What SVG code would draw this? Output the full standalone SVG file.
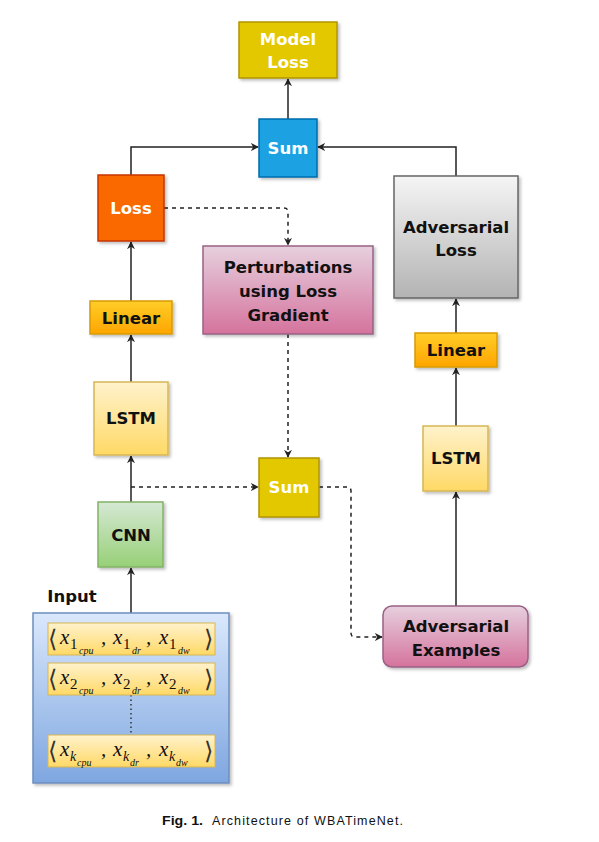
<svg xmlns="http://www.w3.org/2000/svg" width="599" height="842" viewBox="0 0 599 842">
<style>
.lbl{font-family:"DejaVu Sans","Liberation Sans",sans-serif;font-weight:bold;font-size:16.5px;text-anchor:middle}
.w{fill:#ffffff}
.k{fill:#111111}
.edge{fill:none;stroke:#222222;stroke-width:1.5}
.dash{fill:none;stroke:#222222;stroke-width:1.5;stroke-dasharray:4 4}
.mx{font-family:"Liberation Serif","DejaVu Serif",serif;font-style:italic;font-size:21px;fill:#111}
.m1{font-family:"Liberation Serif","DejaVu Serif",serif;font-size:15px;fill:#111}
.ms{font-family:"Liberation Serif","DejaVu Serif",serif;font-style:italic;font-size:10px;fill:#111}
.br{font-family:"DejaVu Sans","Noto Sans",sans-serif;font-size:24px;fill:#333}
.cap{font-family:"Liberation Sans","DejaVu Sans",sans-serif;font-size:12.5px;fill:#111}
</style>
<defs>
<filter id="sh" x="-10%" y="-10%" width="130%" height="130%">
<feDropShadow dx="2" dy="2" stdDeviation="1.5" flood-color="#000" flood-opacity="0.25"/>
</filter>
<linearGradient id="gGray" x1="0" y1="0" x2="0" y2="1"><stop offset="0" stop-color="#f5f5f5"/><stop offset="1" stop-color="#b3b3b3"/></linearGradient>
<linearGradient id="gPink" x1="0" y1="0" x2="0" y2="1"><stop offset="0" stop-color="#e6d0de"/><stop offset="1" stop-color="#d5739d"/></linearGradient>
<linearGradient id="gOrange" x1="0" y1="0" x2="0" y2="1"><stop offset="0" stop-color="#ffcd28"/><stop offset="1" stop-color="#ffa500"/></linearGradient>
<linearGradient id="gYellow" x1="0" y1="0" x2="0" y2="1"><stop offset="0" stop-color="#fff2cc"/><stop offset="1" stop-color="#ffd966"/></linearGradient>
<linearGradient id="gGreen" x1="0" y1="0" x2="0" y2="1"><stop offset="0" stop-color="#d5e8d4"/><stop offset="1" stop-color="#97d077"/></linearGradient>
<linearGradient id="gBlue" x1="0" y1="0" x2="0" y2="1"><stop offset="0" stop-color="#dae8fc"/><stop offset="1" stop-color="#7ea6e0"/></linearGradient>
<marker id="arr" viewBox="0 0 10 10" refX="9" refY="5" markerWidth="8" markerHeight="8" markerUnits="userSpaceOnUse" orient="auto">
<path d="M0,0 L10,5 L0,10 L3,5 Z" fill="#222222"/>
</marker>
</defs>
<rect width="599" height="842" fill="#ffffff"/>

<g id="connectors">
<path class="edge" d="M288,119 V79" marker-end="url(#arr)"/>
<path class="edge" d="M131,175 V147 H258" marker-end="url(#arr)"/>
<path class="edge" d="M456,176 V147 H318" marker-end="url(#arr)"/>
<path class="edge" d="M131,301 V242" marker-end="url(#arr)"/>
<path class="edge" d="M131,382 V335" marker-end="url(#arr)"/>
<path class="edge" d="M131,502 V456" marker-end="url(#arr)"/>
<path class="edge" d="M131,613 V568" marker-end="url(#arr)"/>
<path class="edge" d="M456,333 V299" marker-end="url(#arr)"/>
<path class="edge" d="M456,426 V368" marker-end="url(#arr)"/>
<path class="edge" d="M456,606 V492" marker-end="url(#arr)"/>
<path class="dash" d="M164,208 H284 Q288,208 288,212 V245" marker-end="url(#arr)"/>
<path class="dash" d="M288,334 V457" marker-end="url(#arr)"/>
<path class="dash" d="M131,487 H258" marker-end="url(#arr)"/>
<path class="dash" d="M319,487 H347 Q351,487 351,491 V633 Q351,637 355,637 H382" marker-end="url(#arr)"/>
</g>

<g id="model-loss">
<rect x="239" y="22" width="98" height="56" fill="#e3c800" stroke="#b09500" stroke-width="1.5" filter="url(#sh)"/>
<text class="lbl w" x="288" y="45">Model</text>
<text class="lbl w" x="288" y="68">Loss</text>
</g>

<g id="sum-top">
<rect x="259" y="119" width="58" height="58" fill="#1ba1e2" stroke="#006eaf" stroke-width="1.5" filter="url(#sh)"/>
<text class="lbl w" x="288" y="154">Sum</text>
</g>

<g id="loss">
<rect x="98" y="175" width="66" height="66" fill="#fa6800" stroke="#c73500" stroke-width="1.5" filter="url(#sh)"/>
<text class="lbl w" x="131" y="214">Loss</text>
</g>

<g id="adversarial-loss">
<rect x="394" y="176" width="124" height="122" fill="url(#gGray)" stroke="#666666" stroke-width="1.5" filter="url(#sh)"/>
<text class="lbl k" x="456" y="233">Adversarial</text>
<text class="lbl k" x="456" y="256">Loss</text>
</g>

<g id="perturbations">
<rect x="203" y="246" width="170" height="88" fill="url(#gPink)" stroke="#996185" stroke-width="1.5" filter="url(#sh)"/>
<text class="lbl k" x="288" y="273">Perturbations</text>
<text class="lbl k" x="288" y="297">using Loss</text>
<text class="lbl k" x="288" y="321">Gradient</text>
</g>

<g id="linear-left">
<rect x="90" y="301" width="82" height="33" fill="url(#gOrange)" stroke="#d79b00" stroke-width="1.5" filter="url(#sh)"/>
<text class="lbl k" x="131" y="324">Linear</text>
</g>

<g id="linear-right">
<rect x="415" y="333" width="82" height="34" fill="url(#gOrange)" stroke="#d79b00" stroke-width="1.5" filter="url(#sh)"/>
<text class="lbl k" x="456" y="356">Linear</text>
</g>

<g id="lstm-left">
<rect x="94" y="382" width="74" height="73" fill="url(#gYellow)" stroke="#d6b656" stroke-width="1.5" filter="url(#sh)"/>
<text class="lbl k" x="131" y="424">LSTM</text>
</g>

<g id="lstm-right">
<rect x="423" y="426" width="65" height="65" fill="url(#gYellow)" stroke="#d6b656" stroke-width="1.5" filter="url(#sh)"/>
<text class="lbl k" x="456" y="464">LSTM</text>
</g>

<g id="sum-mid">
<rect x="259" y="458" width="60" height="59" fill="#e3c800" stroke="#b09500" stroke-width="1.5" filter="url(#sh)"/>
<text class="lbl w" x="289" y="493">Sum</text>
</g>

<g id="cnn">
<rect x="98" y="502" width="65" height="65" fill="url(#gGreen)" stroke="#82b366" stroke-width="1.5" filter="url(#sh)"/>
<text class="lbl k" x="131" y="541">CNN</text>
</g>

<g id="adversarial-examples">
<rect x="383" y="606" width="145" height="61" rx="9" fill="url(#gPink)" stroke="#996185" stroke-width="1.5" filter="url(#sh)"/>
<text class="lbl k" x="456" y="632">Adversarial</text>
<text class="lbl k" x="456" y="656">Examples</text>
</g>

<g id="input">
<text class="lbl k" x="72" y="602">Input</text>
<rect x="33" y="613" width="196" height="170" fill="url(#gBlue)" stroke="#6c8ebf" stroke-width="1.5" filter="url(#sh)"/>
<path d="M131,695 V735" fill="none" stroke="#333" stroke-width="1.5" stroke-dasharray="1.5 3"/>

<rect x="48" y="623" width="167" height="32" fill="url(#gYellow)" stroke="#d6b656" stroke-width="1"/>
<text class="br" x="48" y="647">⟨</text>
<text class="mx" x="60" y="644">x</text><text class="m1" x="70" y="649">1</text><text class="ms" x="79" y="654">cpu</text>
<text class="mx" x="101" y="644">,</text>
<text class="mx" x="113" y="644">x</text><text class="m1" x="123" y="649">1</text><text class="ms" x="132" y="654">dr</text>
<text class="mx" x="146" y="644">,</text>
<text class="mx" x="159" y="644">x</text><text class="m1" x="169" y="649">1</text><text class="ms" x="178" y="654">dw</text>
<text class="br" x="204" y="647">⟩</text>

<rect x="48" y="663" width="167" height="32" fill="url(#gYellow)" stroke="#d6b656" stroke-width="1"/>
<text class="br" x="48" y="687">⟨</text>
<text class="mx" x="60" y="684">x</text><text class="m1" x="70" y="689">2</text><text class="ms" x="79" y="694">cpu</text>
<text class="mx" x="101" y="684">,</text>
<text class="mx" x="113" y="684">x</text><text class="m1" x="123" y="689">2</text><text class="ms" x="132" y="694">dr</text>
<text class="mx" x="146" y="684">,</text>
<text class="mx" x="159" y="684">x</text><text class="m1" x="169" y="689">2</text><text class="ms" x="178" y="694">dw</text>
<text class="br" x="204" y="687">⟩</text>

<rect x="48" y="735" width="167" height="32" fill="url(#gYellow)" stroke="#d6b656" stroke-width="1"/>
<text class="br" x="48" y="759">⟨</text>
<text class="mx" x="60" y="756">x</text><text class="ms" x="70" y="761" style="font-size:14px">k</text><text class="ms" x="77" y="766">cpu</text>
<text class="mx" x="101" y="756">,</text>
<text class="mx" x="113" y="756">x</text><text class="ms" x="123" y="761" style="font-size:14px">k</text><text class="ms" x="130" y="766">dr</text>
<text class="mx" x="146" y="756">,</text>
<text class="mx" x="159" y="756">x</text><text class="ms" x="169" y="761" style="font-size:14px">k</text><text class="ms" x="176" y="766">dw</text>
<text class="br" x="204" y="759">⟩</text>
</g>

<g id="caption">
<text class="cap" x="162" y="825" font-weight="bold" textLength="41" lengthAdjust="spacingAndGlyphs">Fig. 1.</text>
<text class="cap" x="212" y="825" textLength="191" lengthAdjust="spacing">Architecture of WBATimeNet.</text>
</g>
</svg>
